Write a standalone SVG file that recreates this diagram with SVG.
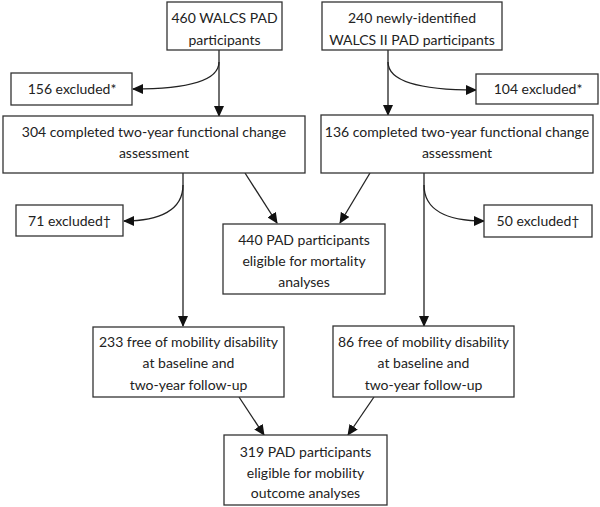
<svg xmlns="http://www.w3.org/2000/svg" width="600" height="507" viewBox="0 0 600 507">
<style>
.box{fill:#fff;stroke:#333;stroke-width:1.3}
.t{font-family:Lato,"Open Sans","Liberation Sans",sans-serif;font-size:14px;fill:#222;text-anchor:middle}
.c{fill:none;stroke:#222;stroke-width:1.3}
</style>
<defs>
<marker id="ah" markerUnits="userSpaceOnUse" markerWidth="11" markerHeight="10" refX="10" refY="5" orient="auto">
<path d="M0,0 L11,5 L0,10 Z" fill="#111"/>
</marker>
</defs>
<rect width="600" height="507" fill="#fff"/>
<g id="connectors">
<path class="c" d="M219,50 V116" marker-end="url(#ah)"/>
<path class="c" d="M219,62 C219,82 185,89 133,89" marker-end="url(#ah)"/>
<path class="c" d="M388,50 V115" marker-end="url(#ah)"/>
<path class="c" d="M388,62 C388,82 420,90 476,90" marker-end="url(#ah)"/>
<path class="c" d="M183,173 V326" marker-end="url(#ah)"/>
<path class="c" d="M183,185 C183,210 160,221 124,221" marker-end="url(#ah)"/>
<path class="c" d="M424,173 V326" marker-end="url(#ah)"/>
<path class="c" d="M424,185 C424,210 447,221 484,221" marker-end="url(#ah)"/>
<path class="c" d="M245,173 L277,223" marker-end="url(#ah)"/>
<path class="c" d="M370,173 L340,223" marker-end="url(#ah)"/>
<path class="c" d="M239,397 L264,435" marker-end="url(#ah)"/>
<path class="c" d="M374,397 L348,435" marker-end="url(#ah)"/>
</g>
<g id="n460">
<rect class="box" x="167" y="2" width="115" height="48"/>
<text class="t" x="224.5" y="23">460 WALCS PAD</text>
<text class="t" x="224.5" y="45">participants</text>
</g>
<g id="n240">
<rect class="box" x="322" y="2" width="180" height="48"/>
<text class="t" x="412" y="23">240 newly-identified</text>
<text class="t" x="412" y="45">WALCS II PAD participants</text>
</g>
<g id="n156">
<rect class="box" x="11" y="73" width="121" height="32"/>
<text class="t" x="72" y="94">156 excluded*</text>
</g>
<g id="n104">
<rect class="box" x="476" y="74" width="122" height="30"/>
<text class="t" x="538" y="94">104 excluded*</text>
</g>
<g id="n304">
<rect class="box" x="3" y="116" width="302" height="57"/>
<text class="t" x="154" y="137">304 completed two-year functional change</text>
<text class="t" x="154" y="158">assessment</text>
</g>
<g id="n136">
<rect class="box" x="321" y="115" width="272" height="58"/>
<text class="t" x="457" y="137">136 completed two-year functional change</text>
<text class="t" x="457" y="158">assessment</text>
</g>
<g id="n71">
<rect class="box" x="16" y="205" width="107" height="31"/>
<text class="t" x="69.5" y="226">71 excluded†</text>
</g>
<g id="n50">
<rect class="box" x="484" y="205" width="108" height="32"/>
<text class="t" x="538" y="226">50 excluded†</text>
</g>
<g id="n440">
<rect class="box" x="223" y="224" width="162" height="70"/>
<text class="t" x="304" y="245">440 PAD participants</text>
<text class="t" x="304" y="266">eligible for mortality</text>
<text class="t" x="304" y="287">analyses</text>
</g>
<g id="n233">
<rect class="box" x="93" y="327" width="191" height="70"/>
<text class="t" x="188.5" y="347">233 free of mobility disability</text>
<text class="t" x="188.5" y="368">at baseline  and</text>
<text class="t" x="188.5" y="390">two-year follow-up</text>
</g>
<g id="n86">
<rect class="box" x="333" y="326" width="181" height="71"/>
<text class="t" x="423.5" y="347">86 free of mobility  disability</text>
<text class="t" x="423.5" y="368">at baseline  and</text>
<text class="t" x="423.5" y="390">two-year follow-up</text>
</g>
<g id="n319">
<rect class="box" x="224" y="435" width="163" height="70"/>
<text class="t" x="305.5" y="457">319 PAD participants</text>
<text class="t" x="305.5" y="478">eligible for mobility</text>
<text class="t" x="305.5" y="498">outcome analyses</text>
</g>
</svg>
